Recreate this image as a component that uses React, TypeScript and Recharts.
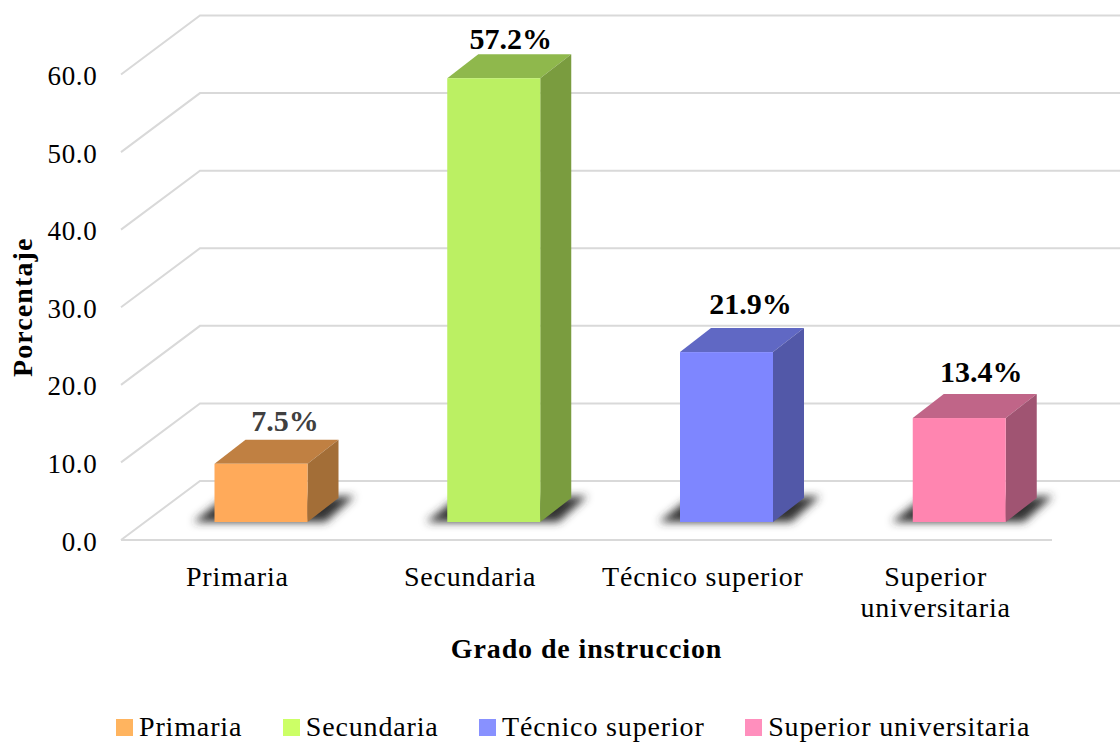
import { BarChart, Bar, XAxis, YAxis, CartesianGrid, Legend, LabelList } from 'recharts';

const categories = ['Primaria', 'Secundaria', 'Técnico superior', 'Superior universitaria'];
const categoryLines = [['Primaria'], ['Secundaria'], ['Técnico superior'], ['Superior', 'universitaria']];
const porcentajes = [7.5, 57.2, 21.9, 13.4];
const yTicks = [0, 10, 20, 30, 40, 50, 60];

const frontColors = ['#FFAA5A', '#BBF063', '#7E86FF', '#FF85B0'];
const topColors = ['#C08042', '#8FB84C', '#6068C4', '#C06588'];
const sideColors = ['#A36E37', '#7A9C3F', '#5258A8', '#A05472'];
const legendColors = ['#FFB45F', '#CCFF66', '#8891FF', '#FF8FBD'];
const labelColors = ['#404040', '#000000', '#000000', '#000000'];
// ajuste fino de las etiquetas de datos
const labelNudgeX = [24, 17, 24, 22];
const labelNudgeY = [-33, -29, -38, -36];

const FONT = '"Liberation Serif", serif';
const GRID = '#d9d9d9';
const DEPTH_X = 79;
const DEPTH_Y = 59;
const BAR_DX = 23.5;
const BAR_DY = 18;
const BOX_X = 31;
const BOX_Y = 24;

const data = categories.map((name, i) => ({ name, valor: porcentajes[i] }));

function Caja3D(props: any) {
  const { x, y, width, height, index } = props;
  const l = x + BAR_DX;
  const r = l + width;
  const t = y - BAR_DY;
  const b = t + height;
  return (
    <g>
      <polygon
        points={`${l - 21},${b} ${l + 6},${b - 21} ${r + 47},${b - 26} ${r + 18},${b}`}
        fill="#333"
        filter="url(#sombra)"
      />
      <polygon points={`${l},${t} ${l + BOX_X},${t - BOX_Y} ${r + BOX_X},${t - BOX_Y} ${r},${t}`} fill={topColors[index]} />
      <polygon points={`${r},${t} ${r + BOX_X},${t - BOX_Y} ${r + BOX_X},${b - BOX_Y} ${r},${b}`} fill={sideColors[index]} />
      <rect x={l} y={t} width={width} height={height} fill={frontColors[index]} />
    </g>
  );
}

function LineaPared(props: any) {
  const { x1, y1, index } = props;
  const backY = y1 - DEPTH_Y;
  return (
    <polyline
      key={index}
      points={`${x1},${y1} ${x1 + DEPTH_X},${backY} 1120,${backY}`}
      fill="none"
      stroke={GRID}
      strokeWidth={2}
    />
  );
}

function TickCategoria(props: any) {
  const { x, y, payload } = props;
  const lines = categoryLines[categories.indexOf(payload.value)];
  return (
    <text x={x} y={y} textAnchor="middle" fontFamily={FONT} fontSize={28} letterSpacing={0.8} fill="#000">
      {lines.map((line: string, i: number) => (
        <tspan key={line} x={x} dy={i === 0 ? 19 : 31}>
          {line}
        </tspan>
      ))}
    </text>
  );
}

function EtiquetaValor(props: any) {
  const { x, y, width, index, value } = props;
  return (
    <text
      x={x + width / 2 + BAR_DX + labelNudgeX[index]}
      y={y - BAR_DY + labelNudgeY[index]}
      textAnchor="middle"
      fontFamily={FONT}
      fontSize={30}
      fontWeight="bold"
      fill={labelColors[index]}
    >
      {value.toFixed(1)}%
    </text>
  );
}

function LeyendaCategorias() {
  return (
    <div style={{ display: 'flex', fontFamily: FONT, fontSize: 28, letterSpacing: 0.85, color: '#000', lineHeight: '32px' }}>
      {categories.map((c, i) => (
        <div key={c} style={{ display: 'flex', alignItems: 'center', marginRight: 40.5 }}>
          <span style={{ width: 17, height: 17, background: legendColors[i], marginRight: 6, display: 'inline-block' }} />
          {c}
        </div>
      ))}
    </div>
  );
}

export default function App() {
  return (
    <div style={{ position: 'absolute', left: 0, top: 0, width: 1120, height: 742, background: '#fff', overflow: 'hidden' }}>
      <BarChart
        width={1120}
        height={742}
        data={data}
        margin={{ top: 74.5, right: 68, bottom: 52, left: 0 }}
        style={{ fontFamily: FONT }}
      >
        <defs>
          <filter id="sombra" x="-30%" y="-60%" width="160%" height="220%">
            <feGaussianBlur stdDeviation="4.5" />
          </filter>
        </defs>
        <CartesianGrid vertical={false} horizontal={(p: any) => <LineaPared {...p} />} />
        <XAxis
          dataKey="name"
          interval={0}
          axisLine={{ stroke: GRID, strokeWidth: 2 }}
          tickLine={false}
          tick={<TickCategoria />}
          tickMargin={21}
          height={118}
          label={{
            value: 'Grado de instruccion',
            position: 'insideBottom',
            offset: 0,
            fontFamily: FONT,
            fontSize: 28,
            letterSpacing: 0.9,
            fontWeight: 'bold',
            fill: '#000',
          }}
        />
        <YAxis
          width={121}
          domain={[0, 60]}
          ticks={yTicks}
          axisLine={false}
          tickLine={false}
          tickMargin={17.5}
          tickFormatter={(v: number) => v.toFixed(1)}
          tick={{ fontFamily: FONT, fontSize: 27, fill: '#000', letterSpacing: 0.7, dy: 1 }}
          label={{
            value: 'Porcentaje',
            angle: -90,
            position: 'insideLeft',
            offset: 22,
            style: { textAnchor: 'middle' },
            fontFamily: FONT,
            fontSize: 28,
            letterSpacing: 1.1,
            fontWeight: 'bold',
            fill: '#000',
          }}
        />
        <Bar dataKey="valor" barSize={93} shape={<Caja3D />} isAnimationActive={false}>
          <LabelList dataKey="valor" content={<EtiquetaValor />} />
        </Bar>
        <Legend
          content={<LeyendaCategorias />}
          wrapperStyle={{ position: 'absolute', left: 116, top: 711, width: 1000, bottom: 'auto' }}
        />
      </BarChart>
    </div>
  );
}
